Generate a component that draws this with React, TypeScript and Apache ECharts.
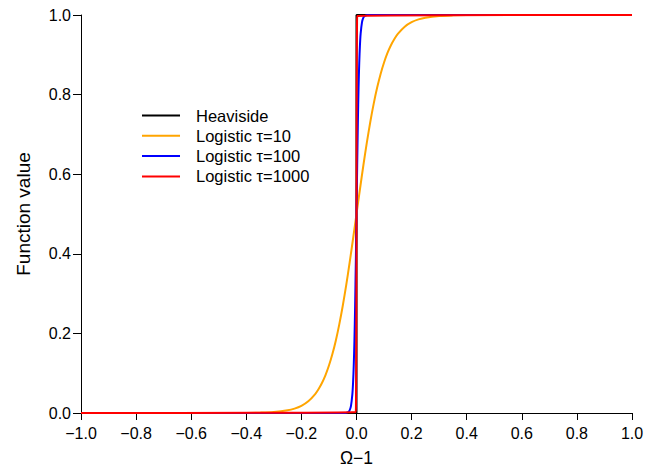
import React, { useEffect, useRef } from "react";
import * as echarts from "echarts";

const heavisideX = [-1, 0, 0, 1];
const heavisideY = [0, 0, 1, 1];

const tau10X = [-1, -0.5, -0.4, -0.35, -0.3, -0.25, -0.225, -0.2, -0.175, -0.15, -0.1375, -0.125, -0.1125, -0.1, -0.0875, -0.075, -0.0625, -0.05, -0.0375, -0.025, -0.0125, 0, 0.0125, 0.025, 0.0375, 0.05, 0.0625, 0.075, 0.0875, 0.1, 0.1125, 0.125, 0.1375, 0.15, 0.175, 0.2, 0.225, 0.25, 0.3, 0.35, 0.4, 0.5, 1];
const tau10Y = [0.0000, 0.0000, 0.0003, 0.0009, 0.0025, 0.0067, 0.0110, 0.0180, 0.0293, 0.0474, 0.0601, 0.0759, 0.0953, 0.1192, 0.1480, 0.1824, 0.2227, 0.2689, 0.3208, 0.3775, 0.4378, 0.5, 0.5622, 0.6225, 0.6792, 0.7311, 0.7773, 0.8176, 0.8520, 0.8808, 0.9047, 0.9241, 0.9399, 0.9526, 0.9707, 0.9820, 0.9890, 0.9933, 0.9975, 0.9991, 0.9997, 1.0000, 1.0000];

const tau100X = [-1, -0.04, -0.03, -0.025, -0.02, -0.015, -0.0125, -0.01, -0.0075, -0.005, -0.0025, 0, 0.0025, 0.005, 0.0075, 0.01, 0.0125, 0.015, 0.02, 0.025, 0.03, 0.04, 1];
const tau100Y = [0.0000, 0.0003, 0.0025, 0.0067, 0.0180, 0.0474, 0.0759, 0.1192, 0.1824, 0.2689, 0.3775, 0.5, 0.6225, 0.7311, 0.8176, 0.8808, 0.9241, 0.9526, 0.9820, 0.9933, 0.9975, 0.9997, 1.0000];

const tau1000X = [-1, -0.003, -0.002, -0.001, -0.0005, 0, 0.0005, 0.001, 0.002, 0.003, 1];
const tau1000Y = [0.0000, 0.0025, 0.0180, 0.1192, 0.2689, 0.5, 0.7311, 0.8808, 0.9820, 0.9975, 1.0000];

const seriesNames = ["Heaviside", "Logistic \u03c4=10", "Logistic \u03c4=100", "Logistic \u03c4=1000"];
const seriesColors = ["#000000", "#FFA500", "#0000FF", "#FF0000"];

const zip = (xs: number[], ys: number[]) => xs.map((x, i) => [x, ys[i]]);

export default function App() {
  const ref = useRef<HTMLDivElement>(null);
  useEffect(() => {
    document.body.style.margin = "0";
    if (!ref.current) return;
    const chart = echarts.init(ref.current, null, { renderer: "svg" });
    const font = "Liberation Sans, Arial, Helvetica, sans-serif";
    const datasets = [
      zip(heavisideX, heavisideY),
      zip(tau10X, tau10Y),
      zip(tau100X, tau100Y),
      zip(tau1000X, tau1000Y),
    ];
    chart.setOption({
      animation: false,
      backgroundColor: "#ffffff",
      textStyle: { fontFamily: font },
      grid: { left: 81, right: 24, top: 15, bottom: 55, containLabel: false, outerBoundsMode: "none" },
      legend: {
        orient: "vertical",
        left: 142,
        top: 107,
        padding: 0,
        itemWidth: 38,
        itemHeight: 14,
        itemGap: 3.3,
        icon: "path://M0,0 L38,0 L38,2 L0,2 Z",
        data: seriesNames.map((n, i) => ({ name: n, itemStyle: { color: seriesColors[i] } })),
        textStyle: { fontFamily: font, fontSize: 16.5, color: "#000", padding: [0, 0, 0, 11] },
      },
      xAxis: {
        type: "value",
        min: -1,
        max: 1,
        interval: 0.2,
        name: "\u03a9\u22121",
        nameLocation: "middle",
        nameGap: 36,
        nameTextStyle: { fontSize: 17.5, color: "#000", fontFamily: font },
        splitLine: { show: false },
        axisLine: { onZero: false, lineStyle: { color: "#000", width: 1 } },
        axisTick: { show: true, length: 7, lineStyle: { color: "#000" } },
        axisLabel: {
          color: "#000",
          fontSize: 16,
          margin: 12,
          fontFamily: font,
          formatter: (v: number) => (v < 0 ? "\u2212" : "") + Math.abs(v).toFixed(1),
        },
      },
      yAxis: {
        type: "value",
        min: 0,
        max: 1,
        interval: 0.2,
        name: "Function value",
        nameLocation: "middle",
        nameGap: 48.5,
        nameTextStyle: { fontSize: 19, color: "#000", fontFamily: font },
        splitLine: { show: false },
        axisLine: { show: true, onZero: false, lineStyle: { color: "#000", width: 1 } },
        axisTick: { show: true, length: 8, lineStyle: { color: "#000" } },
        axisLabel: {
          color: "#000",
          fontSize: 16,
          margin: 10,
          fontFamily: font,
          formatter: (v: number) => v.toFixed(1),
        },
      },
      series: datasets.map((d, i) => ({
        name: seriesNames[i],
        type: "line",
        data: d,
        symbol: "none",
        smooth: i === 0 ? false : 0.3,
        clip: false,
        z: 2 + i,
        lineStyle: { color: seriesColors[i], width: 2 },
        itemStyle: { color: seriesColors[i] },
      })),
    });
    return () => chart.dispose();
  }, []);
  return <div ref={ref} style={{ width: 656, height: 468 }} />;
}
